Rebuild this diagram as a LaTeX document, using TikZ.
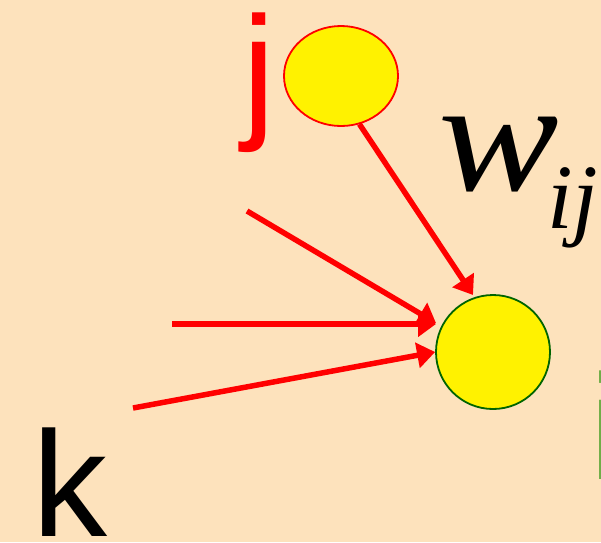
\documentclass[tikz,border=0pt]{standalone}
\usepackage{fontspec}
\setmainfont{Liberation Serif}
\newfontfamily\arialf{Liberation Sans}
\usetikzlibrary{arrows.meta,calc,shapes.geometric}
\definecolor{bgc}{RGB}{253,226,188}
\definecolor{igreen}{RGB}{112,173,71}
\definecolor{dgreen}{RGB}{0,100,0}
\tikzset{
  neuron/.style={fill=yellow, line width=1.8pt, inner sep=0pt},
  link/.style={draw=red, line width=5.5pt, -{Triangle[length=18pt,width=25pt]}},
  lbl/.style={inner sep=0pt, outer sep=0pt, anchor=base west}
}
\begin{document}
\begin{tikzpicture}[x=1pt,y=-1pt]
\useasboundingbox (0,0) rectangle (601,542);
\clip (0,0) rectangle (601,542);
\fill[bgc] (0,0) rectangle (601,542);
\node[neuron, draw=red, ellipse, minimum width=114pt, minimum height=100pt] (j) at (341,76) {};
\node[neuron, draw=dgreen, circle, minimum size=114pt] (i) at (493,352) {};
\coordinate (s2) at (247,211);
\coordinate (s3) at (172,324);
\coordinate (s4) at (133,408);
\draw[link, line cap=butt] (j.-69) -- ($(i.center)+(-20,-57)$);
\draw[link] (s2) -- ($(i.center)+(-57,-29)$);
\draw[link] (s3) -- ($(i.center)+(-57,-28)$);
\draw[link] (s4) -- (i.west);
\node[lbl, text=red, font=\arialf\fontsize{150}{150}\selectfont] (lj) at (242,121) {j};
\node[lbl, font=\arialf\fontsize{150}{150}\selectfont] (lk) at (32,536) {k};
\node[lbl, text=igreen, font=\arialf\fontsize{150}{150}\selectfont] (li) at (589,479) {i};
\node[lbl, font=\itshape\fontsize{160}{160}\selectfont] (lw) at (438,190) {\scalebox{1.13}[1]{w}};
\node[lbl, font=\itshape\fontsize{92}{92}\selectfont] (lij) at (547,228) {ij};
\end{tikzpicture}
\end{document}
